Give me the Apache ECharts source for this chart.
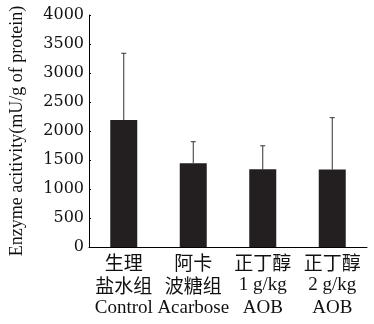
<!DOCTYPE html>
<html><head><meta charset="utf-8">
<script src="https://cdn.jsdelivr.net/npm/echarts@6/dist/echarts.min.js"></script>
<style>html,body{margin:0;padding:0;background:#fff}#c{width:374px;height:324px}</style>
</head><body><div id="c"></div>
<script>
var catCN1 = ['生理', '阿卡', '正丁醇', '正丁醇'];
var catCN2 = ['盐水组', '波糖组', '1 g/kg', '2 g/kg'];
var catEN = ['Control', 'Acarbose', 'AOB', 'AOB'];
var means = [2190, 1445, 1340, 1335];
var errTop = [3340, 1815, 1745, 2230];
var yTicks = [0, 500, 1000, 1500, 2000, 2500, 3000, 3500, 4000];

var cats = catCN1.map(function(c, i){ return c + '\n' + catCN2[i] + '\n' + catEN[i]; });
var chart = echarts.init(document.getElementById('c'));
var serif = 'Liberation Serif';
chart.setOption({
  animation: false,
  grid: {left: 85, right: 7, top: 15, bottom: 77},
  xAxis: {
    type: 'category', data: cats,
    axisLine: {lineStyle: {color: '#000', width: 1}},
    axisTick: {inside: true, length: 3, lineStyle: {color: '#000'}},
    axisLabel: {color: '#111', fontFamily: 'Noto Sans CJK SC', fontSize: 19, lineHeight: 23, margin: 4, interval: 0,
      formatter: function(v){ var p = v.split('\n'); return p[0] + '\n' + (p[1].indexOf('g/kg') >= 0 ? '{en|' + p[1] + '}' : p[1]) + '\n{en|' + p[2] + '}'; },
      rich: {en: {fontFamily: serif, fontSize: 19, lineHeight: 23, color: '#111'}}}
  },
  yAxis: {
    type: 'value', min: yTicks[0], max: yTicks[yTicks.length-1], interval: 500,
    name: 'Enzyme acitivity(mU/g of protein)', nameLocation: 'middle', nameGap: 63,
    nameTextStyle: {fontFamily: serif, fontSize: 18, color: '#111'},
    axisLine: {show: true, lineStyle: {color: '#000', width: 1}},
    axisTick: {show: true, inside: true, length: 2, lineStyle: {color: '#000'}},
    splitLine: {show: false},
    axisLabel: {fontFamily: 'DejaVu Serif', fontSize: 16, color: '#111', margin: 5,
      formatter: function(v){ return String(v); }}
  },
  series: [
    {type: 'bar', data: means, barWidth: 27, itemStyle: {color: '#231f20'}},
    {type: 'custom', data: means.map(function(m, i){ return [i, m, errTop[i]]; }),
      z: 3,
      renderItem: function(params, api){
        var x = api.value(0);
        var p0 = api.coord([x, api.value(1)]);
        var p1 = api.coord([x, api.value(2)]);
        var s = {stroke: '#333', lineWidth: 1};
        return {type: 'group', children: [
          {type: 'line', shape: {x1: p0[0], y1: p0[1], x2: p1[0], y2: p1[1]}, style: s},
          {type: 'line', shape: {x1: p1[0]-2.5, y1: p1[1], x2: p1[0]+2.5, y2: p1[1]}, style: s}
        ]};
      }}
  ]
});
</script></body></html>
